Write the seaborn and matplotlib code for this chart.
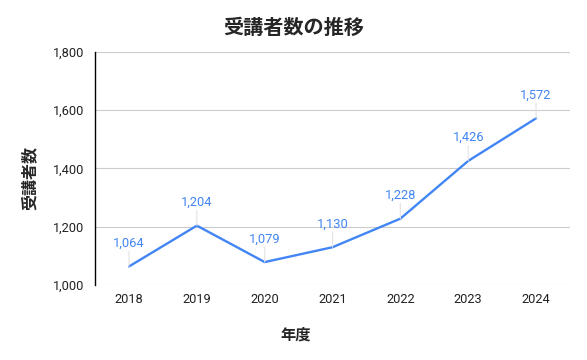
import matplotlib
matplotlib.use("Agg")
import matplotlib.pyplot as plt
import matplotlib.ticker as mticker
import pandas as pd
import seaborn as sns

years = ["2018", "2019", "2020", "2021", "2022", "2023", "2024"]
students = [1064, 1204, 1079, 1130, 1228, 1426, 1572]

LINE_COLOR = "#4285F4"
JP_FONT = ["Noto Sans CJK JP", "DejaVu Sans"]


def main() -> None:
  sns.set_theme(style="white")
  plt.rcParams["font.family"] = ["Roboto", "Noto Sans CJK JP", "DejaVu Sans"]

  df = pd.DataFrame({"year": years, "students": students})

  fig = plt.figure(figsize=(5.87, 3.6), dpi=100)
  ax = fig.add_axes([0.162, 0.208, 0.809, 0.648])

  sns.lineplot(data=df, x="year", y="students", color=LINE_COLOR, linewidth=1.7, sort=False, ax=ax)

  ax.set_xlim(-0.5, len(years) - 0.5)
  ax.set_ylim(1000, 1800)
  ax.yaxis.set_major_locator(mticker.MultipleLocator(200))
  ax.yaxis.set_major_formatter(mticker.FuncFormatter(lambda v, _: f"{int(v):,}"))
  ax.grid(axis="y", color="#cccccc", linewidth=0.8)
  ax.grid(axis="x", visible=False)
  for side in ["top", "right", "bottom"]:
    ax.spines[side].set_visible(False)
  ax.spines["left"].set_color("#000000")
  ax.spines["left"].set_linewidth(1)
  ax.tick_params(axis="both", labelsize=9.2, colors="#222222", length=0, pad=6)
  ax.tick_params(axis="y", pad=8)

  for i, v in enumerate(students):
    ax.annotate(
      f"{v:,}",
      xy=(i, v),
      xytext=(0, 12),
      textcoords="offset points",
      ha="center",
      va="bottom",
      fontsize=9.3,
      color=LINE_COLOR,
    )
    ax.annotate(
      "",
      xy=(i, v),
      xytext=(0, 11),
      textcoords="offset points",
      arrowprops=dict(arrowstyle="-", color="#e3e3e3", linewidth=0.8, shrinkA=0, shrinkB=0),
    )

  ax.set_xlabel("年度", fontsize=11, fontweight="bold", family=JP_FONT)
  ax.xaxis.set_label_coords(296 / 587, 1 - 335 / 360, transform=fig.transFigure)
  ax.xaxis.label.set_va("center")
  ax.set_ylabel("受講者数", fontsize=11.5, fontweight="bold", family=JP_FONT)
  ax.yaxis.set_label_coords(30 / 587, 1 - 178 / 360, transform=fig.transFigure)
  ax.yaxis.label.set_va("center")
  fig.text(0.5, 1 - 27.5 / 360, "受講者数の推移", fontsize=14.5, fontweight="bold",
           ha="center", va="center", family=JP_FONT)

  fig.savefig("out.png", dpi=100, facecolor="white")
  plt.close(fig)


if __name__ == "__main__":
  main()
